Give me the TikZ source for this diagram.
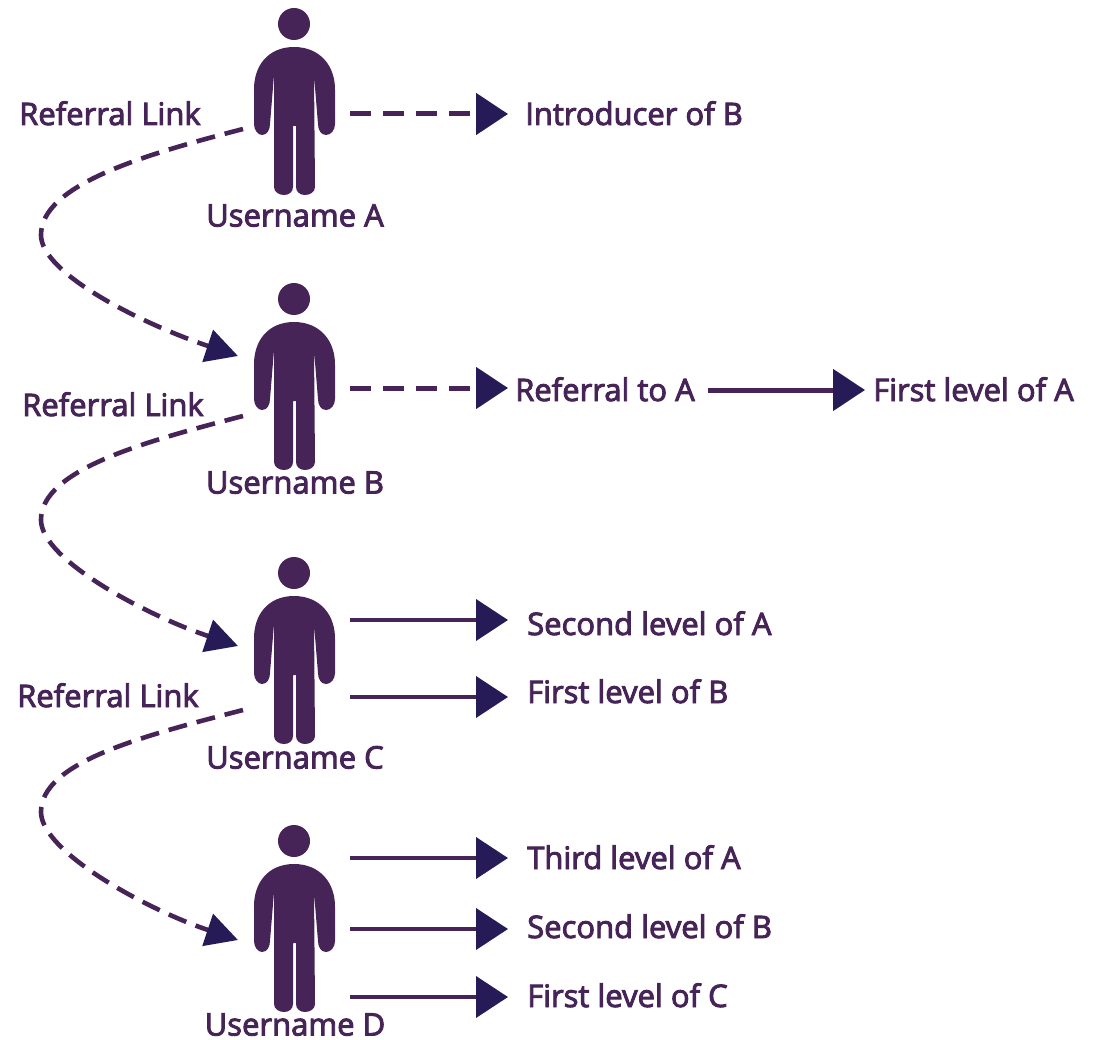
\documentclass[tikz,border=0pt]{standalone}
\usepackage{fontspec}
\setmainfont{Open Sans}[FakeBold=3]
\usetikzlibrary{arrows.meta}
\definecolor{pur}{HTML}{472457}
\definecolor{tip}{HTML}{261B57}
\tikzset{
 x=1pt,y=-1pt,
 lbl/.style={font=\fontsize{31}{33}\selectfont,text=pur,inner sep=0pt,anchor=base west},
 ulbl/.style={font=\fontsize{31}{33}\selectfont,text=pur,inner sep=0pt,anchor=base},
 tiparrow/.style={line width=5pt,draw=pur,-{Triangle[length=32pt,width=41pt,fill=tip,color=tip]}},
 dashline/.style={tiparrow,dash pattern=on 21pt off 12pt},
 curveline/.style={line width=4.6pt,draw=pur,dash pattern=on 19pt off 10pt,-{Triangle[length=32pt,width=33pt,fill=tip,color=tip]}},
 person/.pic={
  \fill[pur] (0,0) circle[radius=16];
  \fill[pur] (0,23) .. controls (-26,23) and (-41,42) .. (-40,68)
    -- (-40,100) .. controls (-40,106) and (-36,111) .. (-32,111)
    .. controls (-27,111) and (-24,106) .. (-24,100)
    -- (-20,51)
    -- (-20,163) .. controls (-20,168) and (-15,171) .. (-10,171)
    .. controls (-5,171) and (-1,168) .. (-1,163)
    -- (-1,102) -- (2,102)
    -- (2,163) .. controls (2,168) and (6,171) .. (11,171)
    .. controls (16,171) and (21,168) .. (21,163)
    -- (20,51) -- (24,100) .. controls (24,106) and (27,111) .. (32,111)
    .. controls (37,111) and (41,106) .. (41,100)
    -- (41,68) .. controls (42,42) and (26,23) .. (0,23) -- cycle;
 }
}
\begin{document}
\begin{tikzpicture}
\useasboundingbox (0,0) rectangle (1105,1040);
\pic at (294,24) {person};
\pic at (294,299) {person};
\pic at (294,573) {person};
\pic at (294,841) {person};
% users
\node[ulbl] (ua) at (295,226.5) {Username A};
\node[ulbl] (ub) at (295,493.5) {Username B};
\node[ulbl] (uc) at (295,768.5) {Username C};
\node[ulbl] (ud) at (295,1035.5) {Username D};
% referral labels
\node[lbl] (ra) at (19,125) {Referral Link};
\node[lbl] (rb) at (22,416) {Referral Link};
\node[lbl] (rc) at (17,707) {Referral Link};
% right labels
\node[lbl] (t1) at (525,125) {Introducer of B};
\node[lbl] (t2) at (515,401) {Referral to A};
\node[lbl] (t3) at (873,401) {First level of A};
\node[lbl] (t4) at (527,635) {Second level of A};
\node[lbl] (t5) at (527,703) {First level of B};
\node[lbl] (t6) at (527,869) {Third level of A};
\node[lbl] (t7) at (527,938) {Second level of B};
\node[lbl] (t8) at (527,1007) {First level of C};
% free ends
\coordinate (a1) at (350,114); \coordinate (a1e) at (508,114);
\coordinate (b1) at (350,388); \coordinate (b1e) at (508,388);
\coordinate (b2) at (708,390); \coordinate (b2e) at (865,390);
\coordinate (c1) at (350,620); \coordinate (c1e) at (508,620);
\coordinate (c2) at (350,697); \coordinate (c2e) at (508,697);
\coordinate (d1) at (350,858); \coordinate (d1e) at (508,858);
\coordinate (d2) at (350,929); \coordinate (d2e) at (508,929);
\coordinate (d3) at (350,997); \coordinate (d3e) at (508,997);
\draw[dashline] (a1) -- (a1e);
\draw[dashline] (b1) -- (b1e);
\draw[tiparrow] (b2) -- (b2e);
\draw[tiparrow,line width=4pt] (c1) -- (c1e);
\draw[tiparrow,line width=4pt] (c2) -- (c2e);
\draw[tiparrow,line width=4pt] (d1) -- (d1e);
\draw[tiparrow,line width=4pt] (d2) -- (d2e);
\draw[tiparrow,line width=4pt] (d3) -- (d3e);
% curves
\coordinate (s1) at (243,129); \coordinate (m1) at (41,235); \coordinate (e1) at (238,356);
\coordinate (s2) at (243,416); \coordinate (m2) at (41,520); \coordinate (e2) at (238,646);
\coordinate (s3) at (243,710); \coordinate (m3) at (41,812); \coordinate (e3) at (238,940);
\draw[curveline] (s1) .. controls +(-100,26) and +(0,-50) .. (m1) .. controls +(0,40) and +(-90,-30) .. (e1);
\draw[curveline] (s2) .. controls +(-100,26) and +(0,-50) .. (m2) .. controls +(0,40) and +(-90,-30) .. (e2);
\draw[curveline] (s3) .. controls +(-100,26) and +(0,-50) .. (m3) .. controls +(0,40) and +(-90,-30) .. (e3);
\end{tikzpicture}
\end{document}
